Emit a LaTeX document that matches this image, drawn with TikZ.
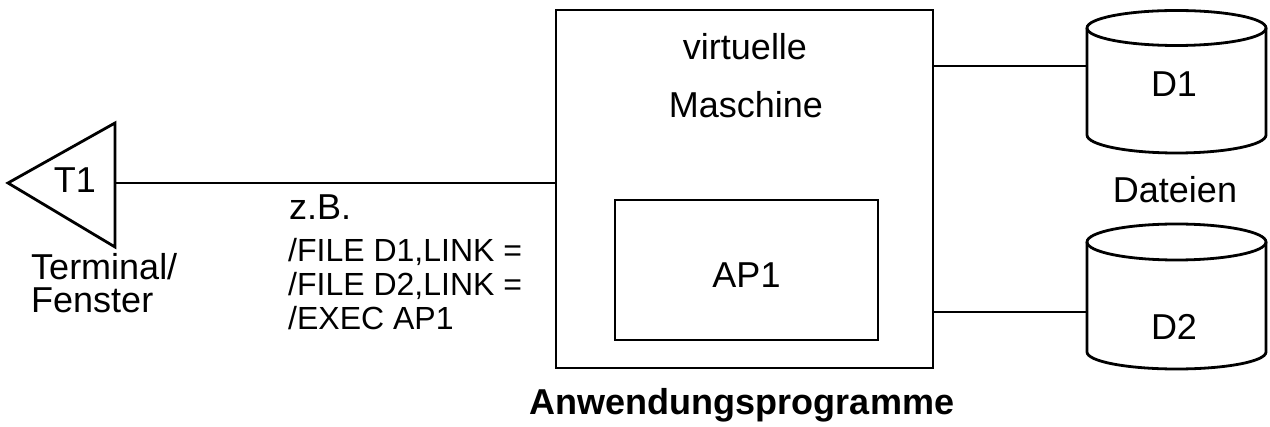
\documentclass[tikz,border=0pt]{standalone}
\usepackage{fontspec}
\setmainfont{Liberation Sans}
\begin{document}
\begin{tikzpicture}[x=1pt,y=-1pt,
  ln/.style={line width=2.8pt,line join=miter},
  lbl/.style={inner sep=0pt,font=\fontsize{36}{40}\selectfont},
  cmd/.style={inner sep=0pt,font=\fontsize{32}{36}\selectfont,anchor=base west},
  boxnode/.style={ln,draw,inner sep=0pt}]
\useasboundingbox (0,0) rectangle (1270,427);
% main box and inner box
\node[boxnode,minimum width=377pt,minimum height=358pt] (vm) at (744.5,189) {};
\node[boxnode,minimum width=263pt,minimum height=140pt] (ap) at (746.5,270) {};
\node[lbl,anchor=base] (apt) at (746.5,288) {AP1};
\node[lbl,anchor=base] (virt) at (745,60) {virtuelle};
\node[lbl,anchor=base] (masch) at (746,118) {Maschine};
\node[lbl,anchor=base,font=\fontsize{36}{40}\selectfont\bfseries] (anw) at (742,415) {Anwendungsprogramme};
% terminal triangle
\draw[ln] (115,123) -- (8,183) -- (115,247) -- cycle;
\coordinate (tri) at (115,183);
\node[lbl,anchor=base] (t1) at (75,193) {T1};
\node[lbl,anchor=base west] (term) at (31,280) {Terminal/};
\node[lbl,anchor=base west] (fen) at (31,313) {Fenster};
\draw[ln] (tri) -- (vm.west |- tri);
% commands
\node[lbl,anchor=base west] (zb) at (289,220) {z.B.};
\node[cmd] (c1) at (288,262) {/FILE D1,LINK =};
\node[cmd] (c2) at (288,296) {/FILE D2,LINK =};
\node[cmd] (c3) at (288,330) {/EXEC AP1};
% cylinders
\draw[ln] (1176.5,28) ellipse [x radius=89.5pt,y radius=17.5pt];
\draw[ln] (1087,28) -- (1087,135) arc[start angle=180,end angle=360,x radius=89.5pt,y radius=18pt] -- (1266,28);
\draw[ln] (1176.5,242) ellipse [x radius=89.5pt,y radius=18pt];
\draw[ln] (1087,242) -- (1087,352) arc[start angle=180,end angle=360,x radius=89.5pt,y radius=17pt] -- (1266,242);
\coordinate (d1in) at (1087,66);
\coordinate (d2in) at (1087,312);
\node[lbl,anchor=base] (d1) at (1174,97) {D1};
\node[lbl,anchor=base] (d2) at (1174,340) {D2};
\node[lbl,anchor=base] (dat) at (1175,203) {Dateien};
\draw[ln] (vm.east |- d1in) -- (d1in);
\draw[ln] (vm.east |- d2in) -- (d2in);
\end{tikzpicture}
\end{document}
